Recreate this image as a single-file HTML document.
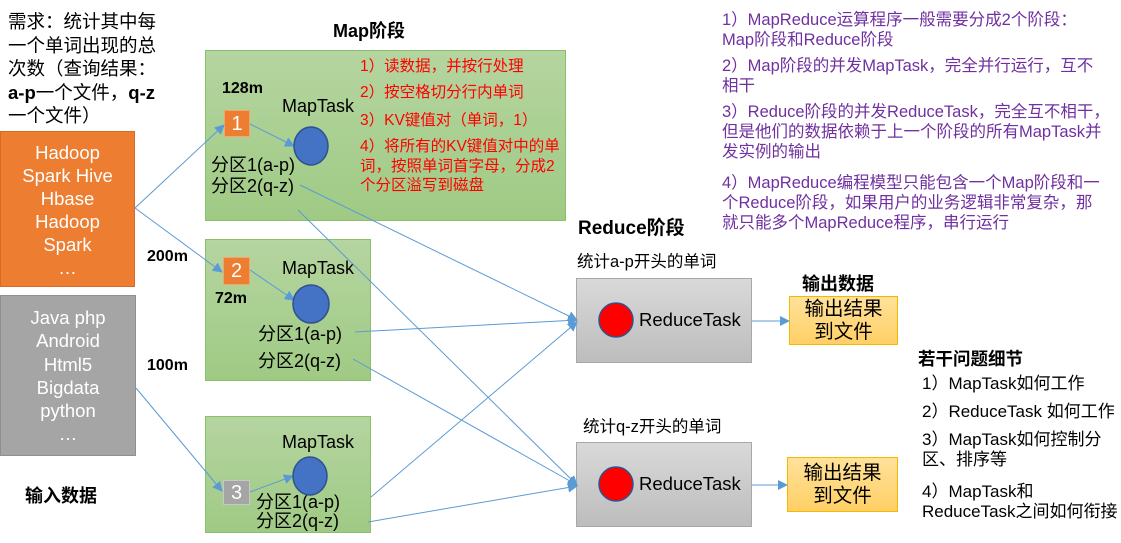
<!DOCTYPE html>
<html><head><meta charset="utf-8"><style>
body{margin:0;width:1121px;height:543px;background:#fff;position:relative;overflow:hidden;font-family:"Liberation Sans","Noto Sans CJK SC",sans-serif;}
.a{position:absolute;white-space:nowrap;}
.g{position:absolute;background:linear-gradient(#b5d5a0,#9fca84);border:1px solid #8cbf6c;box-sizing:border-box;}
.r{position:absolute;background:linear-gradient(#d9d9d9,#bdbdbd);border:1.5px solid #a8a8a8;box-sizing:border-box;}
.o{position:absolute;background:linear-gradient(#ffe29a,#ffcf66);border:1.5px solid #f5b800;box-sizing:border-box;font-size:19.5px;text-align:center;line-height:23px;padding-top:1px;}
.p{color:#7030a0;font-size:16.5px;line-height:20px;}
.b{font-weight:bold;}
</style></head><body>
<div class="a" style="left:8px;top:10px;font-size:18.5px;line-height:23.5px;white-space:normal;width:170px">需求：统计其中每<br>一个单词出现的总<br>次数（查询结果：<br><b>a-p</b>一个文件，<b>q-z</b><br>一个文件）</div>
<div class="a" style="left:0;top:131px;width:135px;height:156px;background:#ed7d31;border:1px solid #d9692a;box-sizing:border-box;color:#fff;font-size:18.5px;line-height:23px;text-align:center;padding-top:9px">Hadoop<br>Spark Hive<br>Hbase<br>Hadoop<br>Spark<br>…</div>
<div class="a" style="left:0;top:295px;width:136px;height:161px;background:#a5a5a5;border:1.5px solid #8f8f8f;box-sizing:border-box;color:#fff;font-size:18.5px;line-height:23.3px;text-align:center;padding-top:10px">Java php<br>Android<br>Html5<br>Bigdata<br>python<br>…</div>
<div class="a b" style="left:25px;top:482px;font-size:18px">输入数据</div>
<div class="a b" style="left:333px;top:17px;font-size:18px">Map阶段</div>
<div class="a b" style="left:147px;top:248px;font-size:16px">200m</div>
<div class="a b" style="left:147px;top:357px;font-size:16px">100m</div>

<div class="g" style="left:205px;top:50px;width:361px;height:171px"></div>
<div class="g" style="left:205px;top:239px;width:166px;height:142px"></div>
<div class="g" style="left:205px;top:416px;width:166px;height:117px"></div>

<div class="a b" style="left:222px;top:80px;font-size:16px">128m</div>
<div class="a b" style="left:215px;top:290px;font-size:16px">72m</div>
<div class="a" style="left:282px;top:96px;font-size:18px">MapTask</div>
<div class="a" style="left:282px;top:258px;font-size:18px">MapTask</div>
<div class="a" style="left:282px;top:432px;font-size:18px">MapTask</div>
<div class="a" style="left:360px;top:57px;color:#f00;font-size:15.5px;line-height:20px">1）读数据，并按行处理</div>
<div class="a" style="left:360px;top:83px;color:#f00;font-size:15.5px;line-height:20px">2）按空格切分行内单词</div>
<div class="a" style="left:360px;top:111px;color:#f00;font-size:15.5px;line-height:20px">3）KV键值对（单词，1）</div>
<div class="a" style="left:360px;top:137px;color:#f00;font-size:15.5px;line-height:19.5px">4）将所有的KV键值对中的单<br>词，按照单词首字母，分成2<br>个分区溢写到磁盘</div>
<div class="a" style="left:211px;top:155px;font-size:18px;line-height:21px">分区1(a-p)<br>分区2(q-z)</div>
<div class="a" style="left:258px;top:321px;font-size:18px;line-height:27px">分区1(a-p)<br>分区2(q-z)</div>
<div class="a" style="left:256px;top:493px;font-size:18px;line-height:19px">分区1(a-p)<br>分区2(q-z)</div>

<div class="a" style="left:224px;top:110px;width:26px;height:27px;background:#ed7d31;border:1px solid #f4a46d;box-sizing:border-box;color:#fff;font-size:20px;text-align:center;line-height:26px">1</div>
<div class="a" style="left:223px;top:257px;width:27px;height:28px;background:#ed7d31;border:1px solid #f4a46d;box-sizing:border-box;color:#fff;font-size:20px;text-align:center;line-height:27px">2</div>
<div class="a" style="left:223px;top:480px;width:27px;height:25px;background:#a5a5a5;border:1px solid #c8c8c8;box-sizing:border-box;color:#fff;font-size:20px;text-align:center;line-height:24px">3</div>

<div class="r" style="left:576px;top:278px;width:176px;height:85px"></div>
<div class="r" style="left:576px;top:442px;width:176px;height:85px"></div>
<div class="a b" style="left:578px;top:213px;font-size:19px">Reduce阶段</div>
<div class="a" style="left:577px;top:248px;font-size:16.5px">统计a-p开头的单词</div>
<div class="a" style="left:583px;top:413px;font-size:16.5px">统计q-z开头的单词</div>
<div class="a" style="left:639px;top:309px;font-size:18.5px">ReduceTask</div>
<div class="a" style="left:639px;top:473px;font-size:18.5px">ReduceTask</div>
<div class="a b" style="left:802px;top:270px;font-size:18px">输出数据</div>
<div class="o" style="left:789px;top:296px;width:109px;height:49px">输出结果<br>到文件</div>
<div class="o" style="left:787px;top:457px;width:111px;height:55px;padding-top:4px">输出结果<br>到文件</div>

<div class="a p" style="left:722px;top:10px">1）MapReduce运算程序一般需要分成2个阶段：<br>Map阶段和Reduce阶段</div>
<div class="a p" style="left:722px;top:56px">2）Map阶段的并发MapTask，完全并行运行，互不<br>相干</div>
<div class="a p" style="left:722px;top:102px">3）Reduce阶段的并发ReduceTask，完全互不相干，<br>但是他们的数据依赖于上一个阶段的所有MapTask并<br>发实例的输出</div>
<div class="a p" style="left:722px;top:173px">4）MapReduce编程模型只能包含一个Map阶段和一<br>个Reduce阶段，如果用户的业务逻辑非常复杂，那<br>就只能多个MapReduce程序，串行运行</div>

<div class="a b" style="left:918px;top:346px;font-size:17.5px">若干问题细节</div>
<div class="a" style="left:922px;top:369px;font-size:17px">1）MapTask如何工作</div>
<div class="a" style="left:922px;top:397px;font-size:17px">2）ReduceTask 如何工作</div>
<div class="a" style="left:922px;top:430px;font-size:17px;line-height:20px">3）MapTask如何控制分<br>区、排序等</div>
<div class="a" style="left:922px;top:482px;font-size:17px;line-height:20px">4）MapTask和<br>ReduceTask之间如何衔接</div>

<svg class="a" style="left:0;top:0" width="1121" height="543">
<defs><marker id="m" markerWidth="10" markerHeight="10" refX="9" refY="5" orient="auto" markerUnits="userSpaceOnUse"><path d="M0,0L10,5L0,10z" fill="#5b9bd5"/></marker></defs>
<g stroke="#5b9bd5" stroke-width="1" fill="none" marker-end="url(#m)">
<line x1="135" y1="208" x2="224" y2="125"/>
<line x1="135" y1="208" x2="222" y2="272"/>
<line x1="136" y1="388" x2="222" y2="491"/>
<line x1="250" y1="124" x2="294" y2="146"/>
<line x1="250" y1="270" x2="294" y2="300"/>
<line x1="250" y1="492" x2="293" y2="476"/>
<line x1="300" y1="185" x2="577" y2="320"/>
<line x1="298" y1="210" x2="577" y2="485"/>
<line x1="355" y1="332" x2="577" y2="320"/>
<line x1="353" y1="359" x2="577" y2="485"/>
<line x1="371" y1="497" x2="577" y2="322"/>
<line x1="368" y1="522" x2="577" y2="486"/>
<line x1="752" y1="321" x2="789" y2="321"/>
<line x1="752" y1="485" x2="787" y2="485"/>
</g>
<g fill="#4472c4" stroke="#2f528f" stroke-width="1.5">
<ellipse cx="311" cy="146" rx="17" ry="19"/>
<ellipse cx="311" cy="304" rx="18" ry="19"/>
<ellipse cx="310" cy="476" rx="17" ry="19"/>
</g>
<g fill="#f00" stroke="#2f528f" stroke-width="1.5">
<circle cx="616" cy="320" r="17"/>
<circle cx="616" cy="484" r="17"/>
</g>
</svg>
</body></html>
